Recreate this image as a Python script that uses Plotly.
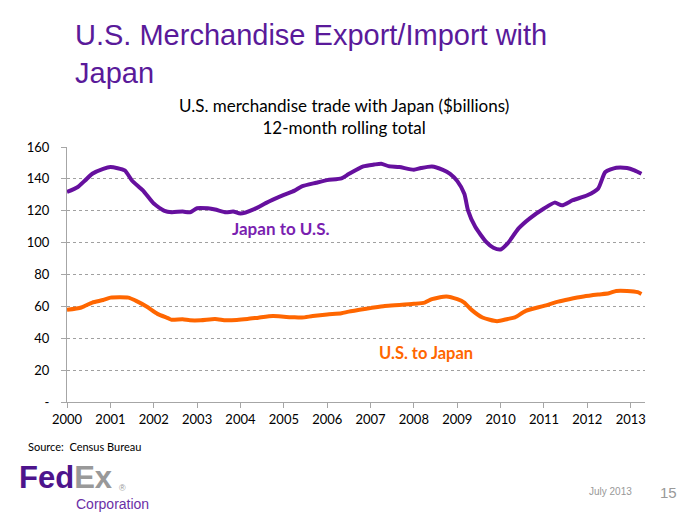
import plotly.graph_objects as go

# Japan to U.S. (imports), 12-month rolling total, $billions
jp_dates = ["2000-01", "2000-04", "2000-06", "2000-08", "2000-11", "2001-01", "2001-05", "2001-07",
            "2001-10", "2002-01", "2002-04", "2002-06", "2002-09", "2002-11", "2003-01", "2003-04",
            "2003-06", "2003-09", "2003-11", "2004-01", "2004-05", "2004-08", "2004-10", "2005-01",
            "2005-04", "2005-06", "2005-10", "2006-01", "2006-05", "2006-07", "2006-11", "2007-02",
            "2007-04", "2007-06", "2007-09", "2008-01", "2008-03", "2008-06", "2008-09", "2008-11",
            "2009-01", "2009-03", "2009-04", "2009-06", "2009-09", "2009-11", "2010-01", "2010-03",
            "2010-06", "2010-09", "2011-01", "2011-04", "2011-06", "2011-09", "2012-01", "2012-04",
            "2012-06", "2012-09", "2012-12", "2013-02", "2013-04"]
jp_values = [131.8, 134.9, 139.0, 143.2, 146.3, 147.4, 145.3, 139.0,
             132.8, 124.5, 119.9, 119.1, 119.5, 119.0, 121.6, 121.5,
             120.8, 119.0, 119.5, 118.2, 121.2, 124.8, 127.0, 130.0,
             132.6, 135.3, 137.6, 139.2, 140.3, 143.0, 147.8, 149.0,
             149.5, 148.0, 147.4, 145.7, 146.8, 147.8, 145.7, 143.2,
             138.6, 130.7, 120.3, 109.9, 100.5, 96.8, 95.7, 99.5,
             108.9, 115.1, 121.4, 125.1, 123.4, 126.6, 129.7, 133.9,
             144.3, 147.0, 146.8, 145.3, 143.2]

# U.S. to Japan (exports), 12-month rolling total, $billions
us_dates = ["2000-01", "2000-05", "2000-08", "2000-11", "2001-01", "2001-06", "2001-08", "2001-11",
            "2002-02", "2002-05", "2002-06", "2002-09", "2002-11", "2003-02", "2003-06", "2003-09",
            "2003-12", "2004-03", "2004-06", "2004-10", "2005-01", "2005-04", "2005-06", "2005-09",
            "2006-01", "2006-05", "2006-07", "2007-01", "2007-05", "2007-09", "2008-01", "2008-04",
            "2008-06", "2008-10", "2009-01", "2009-03", "2009-05", "2009-08", "2009-12", "2010-03",
            "2010-05", "2010-08", "2011-01", "2011-05", "2011-08", "2011-12", "2012-04", "2012-07",
            "2012-09", "2012-12", "2013-03", "2013-04"]
us_values = [57.8, 59.3, 62.4, 64.0, 65.5, 65.5, 63.6, 59.9,
             55.3, 52.6, 51.6, 51.9, 51.3, 51.3, 52.1, 51.3,
             51.5, 52.1, 52.9, 53.9, 53.5, 53.1, 53.0, 53.9,
             54.9, 55.7, 56.7, 58.9, 60.3, 60.9, 61.6, 62.4,
             64.5, 66.2, 64.5, 62.4, 57.8, 53.0, 50.7, 52.1,
             53.1, 57.2, 60.3, 63.0, 64.5, 66.2, 67.4, 68.2,
             69.7, 69.7, 68.9, 67.8]

year_ticks = [f"{y}-01-01" for y in range(2000, 2014)]
year_labels = [str(y) for y in range(2000, 2014)]
y_ticks = [0, 20, 40, 60, 80, 100, 120, 140, 160]
y_labels = ["-", "20", "40", "60", "80", "100", "120", "140", "160"]

# The page body adds an 8px margin around the figure
OFF = 8
W, H = 700 - OFF, 525 - OFF
# plot area in screen pixels
SL, SR, ST, SB = 67, 645, 146.5, 402.5
L, R, T, B = SL - OFF, SR - OFF, ST - OFF, SB - OFF


def px(x):
    """screen x pixel -> paper x"""
    return (x - SL) / (SR - SL)


def py(y):
    """screen y pixel -> paper y"""
    return (SB - y) / (SB - ST)


CHART_FONT = "Lato, Carlito, Calibri, sans-serif"
ARIAL = "Liberation Sans, Arial, sans-serif"
ORANGE = "#FF6600"

fig = go.Figure()
fig.add_trace(go.Scatter(x=jp_dates, y=jp_values, mode="lines",
                         line=dict(color="#66109E", width=4, shape="spline", smoothing=0.6),
                         name="Japan to U.S.", hoverinfo="x+y"))
fig.add_trace(go.Scatter(x=us_dates, y=us_values, mode="lines",
                         line=dict(color=ORANGE, width=4, shape="spline", smoothing=0.6),
                         name="U.S. to Japan", hoverinfo="x+y"))

ann = []
# Slide title
ann.append(dict(x=px(73), y=py(16), xref="paper", yref="paper", xanchor="left", yanchor="top",
                text="U.S. Merchandise Export/Import with<br>Japan", showarrow=False, align="left",
                font=dict(family=ARIAL, size=29, color="#5A1A9A")))
# Chart title
ann.append(dict(x=px(344), y=py(116), xref="paper", yref="paper", xanchor="center", yanchor="middle",
                text="U.S. merchandise trade with Japan ($billions)<br>12-month rolling total",
                showarrow=False, align="center",
                font=dict(family=CHART_FONT, size=17, color="#000000")))
# Series labels
ann.append(dict(x=px(281), y=py(228), xref="paper", yref="paper", xanchor="center", yanchor="middle",
                text="<b>Japan to U.S.</b>", showarrow=False,
                font=dict(family=CHART_FONT, size=17, color="#7A1FB0")))
ann.append(dict(x=px(426), y=py(353), xref="paper", yref="paper", xanchor="center", yanchor="middle",
                text="<b>U.S. to Japan</b>", showarrow=False,
                font=dict(family=CHART_FONT, size=16.5, color=ORANGE)))
# Source
ann.append(dict(x=px(26), y=py(447), xref="paper", yref="paper", xanchor="left", yanchor="middle",
                text="Source:  Census Bureau", showarrow=False,
                font=dict(family=CHART_FONT, size=11, color="#000000")))
# Logo
ann.append(dict(x=px(17), y=py(478), xref="paper", yref="paper", xanchor="left", yanchor="middle",
                text="<b><span style='color:#4D148C'>Fed</span><span style='color:#999999'>Ex</span></b>",
                showarrow=False,
                font=dict(family=ARIAL, size=31, color="#4D148C")))
ann.append(dict(x=px(117), y=py(489), xref="paper", yref="paper", xanchor="left", yanchor="middle",
                text="®", showarrow=False,
                font=dict(family=ARIAL, size=9, color="#999999")))
ann.append(dict(x=px(74), y=py(505), xref="paper", yref="paper", xanchor="left", yanchor="middle",
                text="Corporation", showarrow=False,
                font=dict(family=ARIAL, size=14, color="#6B2FA6")))
# Footer
ann.append(dict(x=px(634), y=py(492), xref="paper", yref="paper", xanchor="right", yanchor="middle",
                text="July 2013", showarrow=False,
                font=dict(family=ARIAL, size=10, color="#999999")))
ann.append(dict(x=px(679), y=py(493), xref="paper", yref="paper", xanchor="right", yanchor="middle",
                text="15", showarrow=False,
                font=dict(family=ARIAL, size=15, color="#999999")))

fig.update_layout(
    width=W, height=H,
    margin=dict(l=L, r=W - R, t=T, b=H - B, pad=0),
    paper_bgcolor="white", plot_bgcolor="white",
    showlegend=False,
    annotations=ann,
    xaxis=dict(type="date", range=["2000-01-01", "2013-05-01"],
               tickvals=year_ticks, ticktext=year_labels,
               showgrid=False, zeroline=False,
               showline=True, linecolor="#A6A6A6", linewidth=1.2,
               ticks="outside", ticklen=5, tickcolor="#A6A6A6",
               tickfont=dict(family=CHART_FONT, size=13, color="#000000")),
    yaxis=dict(range=[0, 160], tickvals=y_ticks, ticktext=y_labels,
               showgrid=True, gridcolor="#A0A0A0", griddash="dot", gridwidth=1,
               zeroline=False,
               showline=True, linecolor="#A6A6A6", linewidth=1.2,
               ticks="outside", ticklen=5, tickcolor="#A6A6A6",
               ticklabelstandoff=9,
               tickfont=dict(family=CHART_FONT, size=13, color="#000000")),
)

fig.write_html("out.html")
